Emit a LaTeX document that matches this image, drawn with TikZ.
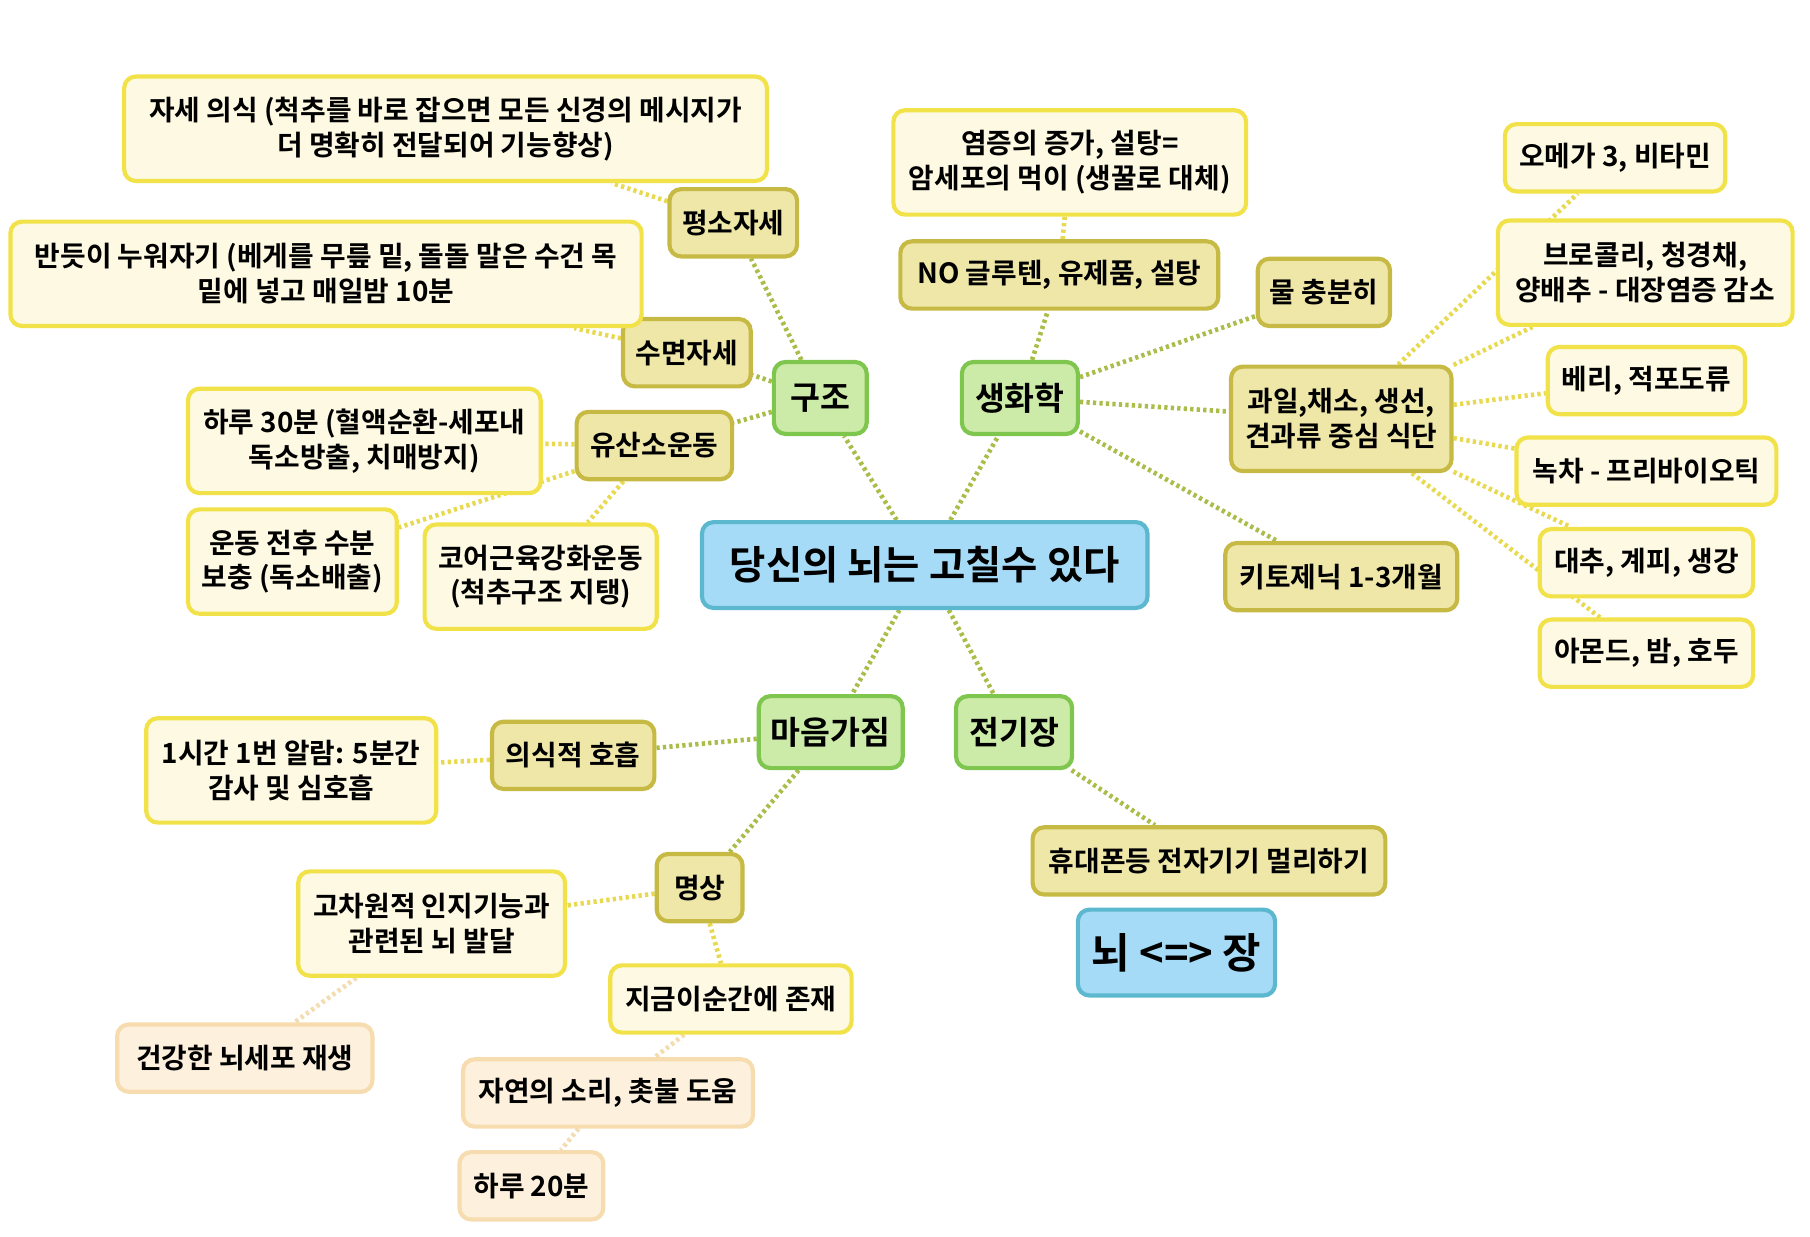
\documentclass[tikz,border=0pt]{standalone}
\usepackage{fontspec}
\setmainfont{Noto Sans CJK KR}[BoldFont={* Bold}]
\usetikzlibrary{backgrounds}
\definecolor{bluef}{HTML}{A6DBF7}\definecolor{blued}{HTML}{5CB8CF}
\definecolor{greenf}{HTML}{CDEBA8}\definecolor{greend}{HTML}{7EC64E}
\definecolor{olivef}{HTML}{EEE7A8}\definecolor{olived}{HTML}{C7BA44}
\definecolor{leaff}{HTML}{FDF9E2}\definecolor{leafd}{HTML}{F2E24A}
\definecolor{peachf}{HTML}{FDF1DE}\definecolor{peachd}{HTML}{F6DCAE}
\definecolor{lk}{HTML}{A9BE4A}\definecolor{ly}{HTML}{E8DA50}\definecolor{lp}{HTML}{F3DCB0}
\tikzset{
 box/.style={rounded corners=5pt,line width=1.8pt,align=center,font=\bfseries\fontsize{12}{15}\selectfont,inner sep=2pt,minimum height=29pt},
 cen/.style={box,fill=bluef,draw=blued,font=\bfseries\fontsize{17}{20}\selectfont,minimum height=37pt},
 grn/.style={box,fill=greenf,draw=greend,font=\bfseries\fontsize{14}{17}\selectfont,minimum height=31pt},
 olv/.style={box,fill=olivef,draw=olived},
 leaf/.style={box,fill=leaff,draw=leafd},
 pch/.style={box,fill=peachf,draw=peachd},
 tall/.style={minimum height=45pt},
 lnk/.style={draw=lk,line width=2pt,dash pattern=on 1.4pt off 1.4pt},
 lny/.style={draw=ly,line width=2pt,dash pattern=on 1.4pt off 1.4pt},
 lnp/.style={draw=lp,line width=2pt,dash pattern=on 1.4pt off 1.4pt},
}
\begin{document}
\begin{tikzpicture}[x=0.5pt,y=-0.5pt]
\useasboundingbox (0,0) rectangle (1560,1066);
\node[cen,minimum width=192pt] (c) at (797,487) {당신의 뇌는 고칠수 있다};
\node[grn,minimum width=40pt] (gz) at (707,343) {구조};
\node[grn,minimum width=50pt] (sh) at (879,343) {생화학};
\node[grn,minimum width=62pt] (mg) at (716,631) {마음가짐};
\node[grn,minimum width=50pt] (jg) at (874,631) {전기장};
\node[cen,minimum width=85pt,font=\bfseries\fontsize{18}{21}\selectfont] (nj) at (1014,821) {뇌 <=> 장};
\node[olv,minimum width=55pt] (ps) at (632,192) {평소자세};
\node[olv,minimum width=55pt] (sm) at (592,304) {수면자세};
\node[olv,minimum width=67pt] (ys) at (564,384) {유산소운동};
\node[leaf,tall,minimum width=277pt] (l1) at (384,111) {자세 의식 (척추를 바로 잡으면 모든 신경의 메시지가\\더 명확히 전달되어 기능향상)};
\node[leaf,tall,minimum width=272pt] (l2) at (281,236) {반듯이 누워자기 (베게를 무릎 밑, 돌돌 말은 수건 목\\밑에 넣고 매일밤 10분};
\node[leaf,tall,minimum width=152pt] (l3) at (314,380) {하루 30분 (혈액순환-세포내\\독소방출, 치매방지)};
\node[leaf,tall,minimum width=90pt] (l4) at (252,484) {운동 전후 수분\\보충 (독소배출)};
\node[leaf,tall,minimum width=100pt] (l5) at (466,497) {코어근육강화운동\\(척추구조 지탱)};
\node[leaf,tall,minimum width=152pt] (l6) at (922,140) {염증의 증가, 설탕=\\암세포의 먹이 (생꿀로 대체)};
\node[olv,minimum width=137pt] (ng) at (913,237) {NO 글루텐, 유제품, 설탕};
\node[olv,minimum width=57pt] (ws) at (1141,252) {물 충분히};
\node[olv,tall,minimum width=95pt] (gi) at (1156,361) {과일,채소, 생선,\\견과류 중심 식단};
\node[olv,minimum width=100pt] (kt) at (1156,497) {키토제닉 1-3개월};
\node[leaf,minimum width=95pt] (om) at (1392,136) {오메가 3, 비타민};
\node[leaf,tall,minimum width=127pt] (br) at (1418,235) {브로콜리, 청경채,\\양배추 - 대장염증 감소};
\node[leaf,minimum width=85pt] (be) at (1419,328) {베리, 적포도류};
\node[leaf,minimum width=112pt] (nc) at (1419,406) {녹차 - 프리바이오틱};
\node[leaf,minimum width=92pt] (dc) at (1419,485) {대추, 계피, 생강};
\node[leaf,minimum width=92pt] (am) at (1419,563) {아몬드, 밤, 호두};
\node[olv,minimum width=70pt] (uh) at (494,651) {의식적 호흡};
\node[leaf,tall,minimum width=125pt] (al) at (251,664) {1시간 1번 알람: 5분간\\감사 및 심호흡};
\node[olv,minimum width=37pt] (ms) at (603,765) {명상};
\node[leaf,tall,minimum width=115pt] (gc) at (372,796) {고차원적 인지기능과\\관련된 뇌 발달};
\node[leaf,minimum width=104pt] (jn) at (630,861) {지금이순간에 존재};
\node[pch,minimum width=110pt] (gh) at (211,912) {건강한 뇌세포 재생};
\node[pch,minimum width=125pt] (js) at (524,942) {자연의 소리, 촛불 도움};
\node[pch,minimum width=62pt] (h20) at (458,1022) {하루 20분};
\node[olv,minimum width=152pt] (hd) at (1042,742) {휴대폰등 전자기기 멀리하기};
\begin{scope}[on background layer]
\foreach \a in {gz,sh,mg,jg}{\draw[lnk] (c)--(\a);}
\foreach \a in {ps,sm,ys}{\draw[lnk] (gz)--(\a);}
\foreach \a in {ng,ws,gi,kt}{\draw[lnk] (sh)--(\a);}
\foreach \a in {uh,ms}{\draw[lnk] (mg)--(\a);}
\draw[lnk] (jg)--(hd);
\draw[lny] (ps)--(l1); \draw[lny] (sm)--(l2); \draw[lny] (ys)--(l3);
\draw[lny] (ys)--(l4); \draw[lny] (ys)--(l5); \draw[lny] (ng)--(l6);
\foreach \a in {om,br,be,nc,dc,am}{\draw[lny] (gi)--(\a);}
\draw[lny] (uh)--(al); \draw[lny] (ms)--(gc); \draw[lny] (ms)--(jn);
\draw[lnp] (gc)--(gh); \draw[lnp] (jn)--(js); \draw[lnp] (js)--(h20);
\end{scope}
\end{tikzpicture}
\end{document}
